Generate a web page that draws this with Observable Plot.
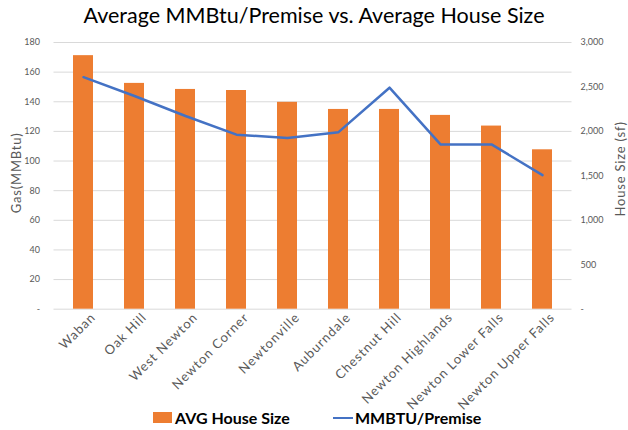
<!DOCTYPE html>
<html><head><meta charset="utf-8">
<script src="https://cdn.jsdelivr.net/npm/d3@7"></script>
<script src="https://cdn.jsdelivr.net/npm/@observablehq/plot@0.6"></script>
<style>
body{margin:0;background:#fff;font-family:Lato,sans-serif;}
#wrap{width:628px;height:430px;position:relative;overflow:hidden;}
#title{height:28px;line-height:30px;text-align:center;font-size:21.5px;color:#000;white-space:nowrap;}
#chart svg{display:block;}
#legend{position:absolute;left:0;top:0;width:628px;height:430px;font-weight:bold;font-size:16px;color:#000;pointer-events:none;}
#legend .sw{position:absolute;}
#legend .lb{position:absolute;top:408px;line-height:19px;white-space:nowrap;}
</style></head><body>
<div id="wrap">
<div id="title">Average MMBtu/Premise vs. Average House Size</div>
<div id="chart"></div>
<div id="legend">
  <div class="sw" style="left:153px;top:412px;width:19px;height:11px;background:#ED7D31"></div>
  <div class="lb" style="left:175px">AVG House Size</div>
  <div class="sw" style="left:333px;top:416.5px;width:20px;height:2.5px;background:#4472C4"></div>
  <div class="lb" style="left:355px">MMBTU/Premise</div>
</div>
</div>
<script>
const neighborhoods = ["Waban","Oak Hill","West Newton","Newton Corner","Newtonville","Auburndale","Chestnut Hill","Newton Highlands","Newton Lower Falls","Newton Upper Falls"];
const houseSize = [2852, 2540, 2472, 2460, 2327, 2247, 2247, 2180, 2060, 1793];
const mmbtuPerPremise = [156.6, 143.9, 130.4, 117.8, 115.5, 119.5, 149.5, 111.2, 111.2, 90.5];
const gasTicks = [0,20,40,60,80,100,120,140,160,180];
const sizeTicks = [0,500,1000,1500,2000,2500,3000];
const gasMax = 180, sizeMax = 3000;

const data = neighborhoods.map((n,i)=>({name:n, size:houseSize[i], gas:mmbtuPerPremise[i]}));
const toGas = v => v*gasMax/sizeMax;
const fmt = d3.format(",");

const chart = Plot.plot({
  width: 628, height: 402,
  marginTop: 14, marginBottom: 121.3, marginLeft: 53.5, marginRight: 56.5,
  style: {fontFamily:"Lato", fontSize:"9px", color:"#595959", background:"transparent", overflow:"visible"},
  x: {domain: neighborhoods, paddingInner: 0.6, paddingOuter: 0.3, label: null},
  y: {domain: [0, gasMax], label: null},
  marks: [
    Plot.gridY(gasTicks, {stroke:"#d9d9d9", strokeOpacity:1, strokeWidth:1}),
    Plot.barY(data, {x:"name", y: d=>toGas(d.size), fill:"#ED7D31"}),
    Plot.lineY(data, {x:"name", y:"gas", stroke:"#4472C4", strokeWidth:2.5}),
    Plot.axisY(gasTicks, {anchor:"left", tickSize:0, tickPadding:14, label:null, tickFormat: d => d===0 ? "-" : d, fill:"#595959"}),
    Plot.axisY(sizeTicks.map(toGas), {anchor:"right", tickSize:0, tickPadding:8.5, label:null, tickFormat: d => { const v=Math.round(d*sizeMax/gasMax); return v===0 ? "-" : fmt(v); }, fill:"#595959"}),
    Plot.axisX({tickRotate:-45, tickSize:0, tickPadding:6, dx:10, fontSize:13, fill:"#595959", label:null}),
    Plot.text(["Gas(MMBtu)"], {frameAnchor:"left", textAnchor:"middle", rotate:-90, dx:-37, dy:-3, fontSize:13, fill:"#595959"}),
    Plot.text(["House Size (sf)"], {frameAnchor:"right", textAnchor:"middle", rotate:-90, dx:49, dy:-7, fontSize:13, fill:"#595959"})
  ]
});
const svg = d3.select(chart);
svg.selectAll('g[aria-label="x-axis tick label"] text').attr("letter-spacing","1px");
svg.selectAll('g[aria-label="text"] text').attr("letter-spacing","0.8px");
document.getElementById("chart").appendChild(chart);
</script>
</body></html>
